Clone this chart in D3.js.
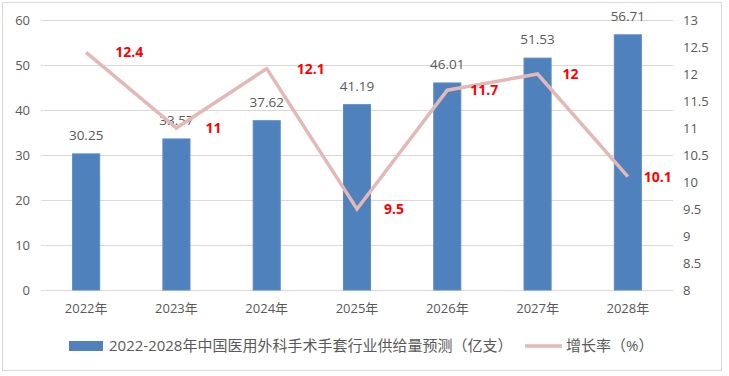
<!DOCTYPE html>
<html>
<head>
<meta charset="utf-8">
<script src="https://cdn.jsdelivr.net/npm/d3@7"></script>
<style>
  body { margin: 0; background: #fff; }
  text { font-family: "Open Sans", "Noto Sans CJK SC", sans-serif; }
</style>
</head>
<body>
<div id="chart"></div>
<script>
var years = ["2022年", "2023年", "2024年", "2025年", "2026年", "2027年", "2028年"];
var supply = [30.25, 33.57, 37.62, 41.19, 46.01, 51.53, 56.71];
var growth = [12.4, 11, 12.1, 9.5, 11.7, 12, 10.1];
var leftTicks = [0, 10, 20, 30, 40, 50, 60];
var rightTicks = [8, 8.5, 9, 9.5, 10, 10.5, 11, 11.5, 12, 12.5, 13];
var barName = "2022-2028年中国医用外科手术手套行业供给量预测（亿支）";
var lineName = "增长率（%）";

// hand-tuned label offsets, like the original
var growthDx = [29, 29, 30, 27, 23, 25, 16];

var width = 729, height = 376;
var margin = {top: 20, right: 56, bottom: 86, left: 41};

var svg = d3.select("#chart").append("svg")
    .attr("width", width)
    .attr("height", height);

svg.append("rect")
    .attr("x", 2.5).attr("y", 2.5)
    .attr("width", 719).attr("height", 368)
    .attr("fill", "#fff")
    .attr("stroke", "#d9d9d9");

var x = d3.scaleBand()
    .domain(years)
    .range([margin.left, width - margin.right])
    .paddingInner(0.7)
    .paddingOuter(0.35);

var y = d3.scaleLinear()
    .domain([0, 60])
    .range([height - margin.bottom, margin.top]);

var y2 = d3.scaleLinear()
    .domain([8, 13])
    .range([height - margin.bottom, margin.top]);

// grid
svg.append("g")
  .selectAll("line")
  .data(leftTicks)
  .join("line")
    .attr("x1", margin.left)
    .attr("x2", width - margin.right)
    .attr("y1", d => Math.round(y(d)) + 0.5)
    .attr("y2", d => Math.round(y(d)) + 0.5)
    .attr("stroke", "#d9d9d9");

var yAxis = function(g) {
  g.attr("transform", `translate(${margin.left},0)`)
    .call(d3.axisLeft(y).tickValues(leftTicks).tickSize(0).tickPadding(11))
    .call(g => g.select(".domain").remove())
    .call(g => g.selectAll("text").attr("fill", "#595959").style("font-size", "13px"));
};

var y2Axis = function(g) {
  g.attr("transform", `translate(${width - margin.right},0)`)
    .call(d3.axisRight(y2).tickValues(rightTicks).tickSize(0).tickPadding(10).tickFormat(d3.format("")))
    .call(g => g.select(".domain").remove())
    .call(g => g.selectAll("text").attr("fill", "#595959").style("font-size", "13px"));
};

var xAxis = function(g) {
  g.attr("transform", `translate(0,${height - margin.bottom})`)
    .call(d3.axisBottom(x).tickSize(0).tickPadding(14))
    .call(g => g.select(".domain").remove())
    .call(g => g.selectAll("text").attr("fill", "#595959").style("font-size", "13px"));
};

svg.append("g").call(yAxis);
svg.append("g").call(y2Axis);
svg.append("g").call(xAxis);

// bars
svg.append("g")
    .attr("fill", "#4f81bd")
    .attr("stroke", "#5b8cc6")
  .selectAll("rect")
  .data(supply)
  .join("rect")
    .attr("x", (d, i) => x(years[i]))
    .attr("y", d => y(d))
    .attr("width", x.bandwidth())
    .attr("height", d => y(0) - y(d));

svg.append("g")
  .selectAll("text")
  .data(supply)
  .join("text")
    .attr("x", (d, i) => x(years[i]) + x.bandwidth() / 2)
    .attr("y", d => y(d) - 14)
    .attr("text-anchor", "middle")
    .attr("fill", "#595959")
    .style("font-size", "13.5px")
    .text(d => d.toFixed(2));

// growth line
var cx = (d, i) => x(years[i]) + x.bandwidth() / 2;
var line = d3.line()
    .x(cx)
    .y(d => y2(d));

svg.append("path")
    .datum(growth)
    .attr("fill", "none")
    .attr("stroke", "#e3b8b7")
    .attr("stroke-width", 3.5)
    .attr("d", line);

svg.append("g")
  .selectAll("text")
  .data(growth)
  .join("text")
    .attr("x", (d, i) => cx(d, i) + growthDx[i])
    .attr("y", d => y2(d))
    .attr("dy", "0.35em")
    .attr("fill", "#ff0000")
    .style("font-size", "14px")
    .style("font-weight", "bold")
    .text(d => d);

// legend
var legend = svg.append("g").attr("transform", "translate(0,346)");
legend.append("rect")
    .attr("x", 69).attr("y", -5)
    .attr("width", 34).attr("height", 10)
    .attr("fill", "#4f81bd");
legend.append("text")
    .attr("x", 109).attr("dy", "0.35em")
    .attr("fill", "#595959")
    .style("font-size", "15px")
    .text(barName);
legend.append("line")
    .attr("x1", 525).attr("x2", 562)
    .attr("stroke", "#e3b8b7")
    .attr("stroke-width", 3.5);
legend.append("text")
    .attr("x", 566).attr("dy", "0.35em")
    .attr("fill", "#595959")
    .style("font-size", "15px")
    .text(lineName);
</script>
</body>
</html>
